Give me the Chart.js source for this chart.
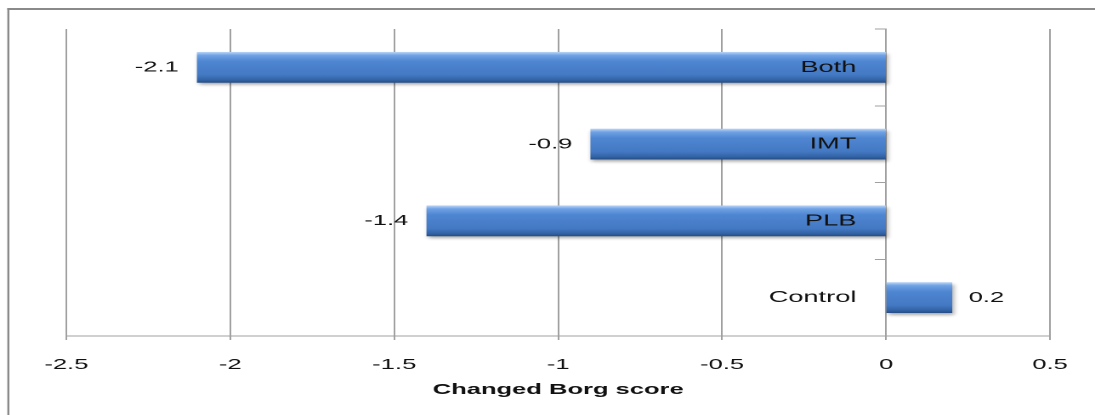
<!DOCTYPE html>
<html>
<head>
<meta charset="utf-8">
<script src="https://cdn.jsdelivr.net/npm/chart.js@4/dist/chart.umd.min.js"></script>
<style>
  html, body { margin: 0; padding: 0; background: #fff; overflow: hidden; }
  /* the source picture is stretched sideways, so the chart is drawn narrow and widened */
  #wrap { width: 644px; height: 415px; transform: scaleX(1.7003); transform-origin: 0 0; }
</style>
</head>
<body>
<div id="wrap"><canvas id="borgChart" width="644" height="415"></canvas></div>
<script>
const categories = ["Both", "IMT", "PLB", "Control"];
const borgChange = [-2.1, -0.9, -1.4, 0.2];
const axisMin = -2.5;
const axisMax = 0.5;
const axisStep = 0.5;
const axisTitle = "Changed Borg score";

const FONT = "'Liberation Sans', Arial, sans-serif";
const TEXT = "#111";
const BAR_H = 30;

// bevel-ish vertical gradient like the old Excel bars
const barFill = (ctx) => {
  const chart = ctx.chart;
  const yScale = chart.scales.y;
  if (!yScale || ctx.dataIndex === undefined) return "#4a80cc";
  const yc = yScale.getPixelForValue(ctx.dataIndex);
  if (!Number.isFinite(yc)) return "#4a80cc";
  const g = chart.ctx.createLinearGradient(0, yc - BAR_H / 2, 0, yc + BAR_H / 2);
  g.addColorStop(0, "#b3d0f5");
  g.addColorStop(0.1, "#6fa2e4");
  g.addColorStop(0.3, "#4f86d2");
  g.addColorStop(0.75, "#4479c3");
  g.addColorStop(0.92, "#3363a6");
  g.addColorStop(1, "#274f88");
  return g;
};

const framePlugin = {
  id: "frame",
  beforeDraw(chart) {
    const c = chart.ctx;
    c.save();
    c.fillStyle = "#8a8a8a";
    c.fillRect(4.3, 8, 1.2, chart.height);
    c.fillRect(4.3, 8, chart.width, 2);
    c.restore();
  },
};

// shadow under the bars, value labels at the bar ends, category names next to the zero axis
const barLabels = {
  id: "barLabels",
  beforeDatasetsDraw(chart) {
    const c = chart.ctx;
    c.save();
    c.shadowColor = "rgba(0,0,0,0.35)";
    c.shadowBlur = 6;
    c.shadowOffsetX = 2;
    c.shadowOffsetY = 4;
  },
  afterDatasetsDraw(chart) {
    const c = chart.ctx;
    c.restore();
    const meta = chart.getDatasetMeta(0);
    const zeroX = chart.scales.x.getPixelForValue(0);
    c.save();
    c.fillStyle = TEXT;
    c.textBaseline = "middle";
    c.font = "15px " + FONT;
    meta.data.forEach((bar, i) => {
      const v = borgChange[i];
      if (v < 0) {
        c.textAlign = "right";
        c.fillText(String(v), bar.x - 11, bar.y);
      } else {
        c.textAlign = "left";
        c.fillText(String(v), bar.x + 10, bar.y);
      }
    });
    c.font = "16px " + FONT;
    c.textAlign = "right";
    categories.forEach((name, i) => {
      c.fillText(name, zeroX - 17.5, chart.scales.y.getPixelForValue(i));
    });
    c.restore();
  },
};

new Chart(document.getElementById("borgChart"), {
  type: "bar",
  data: {
    labels: categories,
    datasets: [
      {
        data: borgChange,
        backgroundColor: barFill,
        borderWidth: 0,
        barThickness: BAR_H,
      },
    ],
  },
  options: {
    indexAxis: "y",
    responsive: false,
    devicePixelRatio: 2,
    animation: false,
    layout: { padding: { left: 39, right: 22.8, top: 29, bottom: 16 } },
    plugins: {
      legend: { display: false },
      tooltip: { enabled: false },
    },
    scales: {
      x: {
        min: axisMin,
        max: axisMax,
        ticks: {
          stepSize: axisStep,
          padding: 16,
          color: TEXT,
          font: { family: FONT, size: 15 },
          callback: (v) => String(v),
        },
        grid: { color: "#a0a0a0", tickLength: 4 },
        border: { color: "#a0a0a0" },
        title: {
          display: true,
          text: axisTitle,
          color: "#111",
          padding: { top: -9, bottom: 0 },
          font: { family: FONT, size: 15, weight: "bold" },
        },
      },
      y: {
        position: { x: 0 },
        offset: true,
        grid: {
          drawOnChartArea: false,
          offset: true,
          tickLength: 6,
          color: "#a0a0a0",
        },
        border: { color: "#a0a0a0" },
        ticks: { display: false },
      },
    },
  },
  plugins: [framePlugin, barLabels],
});
</script>
</body>
</html>
